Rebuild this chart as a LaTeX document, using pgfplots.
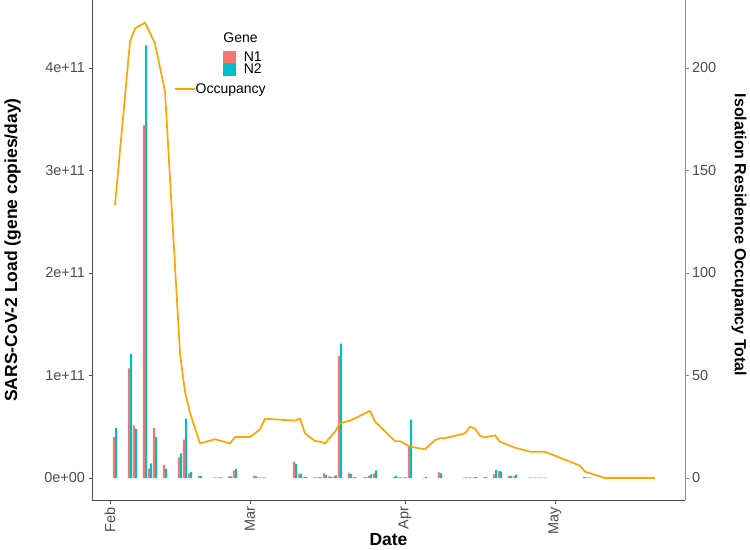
\documentclass[border=0pt]{standalone}
\usepackage{pgfplots}
\pgfplotsset{compat=1.18}
\usepackage{pgfplotstable}
\usepackage{fontspec}
\setmainfont{Liberation Sans}

\definecolor{nOne}{HTML}{F8766D}
\definecolor{nTwo}{HTML}{00BFC4}
\definecolor{occ}{HTML}{FFA500}
\definecolor{tickgray}{HTML}{4D4D4D}
\definecolor{axdark}{HTML}{4D4D4D}
\definecolor{axlight}{HTML}{8C8C8C}

\newcommand{\ticksize}{\fontsize{14.5bp}{17bp}\selectfont}
\newcommand{\legsize}{\fontsize{14bp}{16bp}\selectfont}
\newcommand{\titlesize}{\fontsize{17.5bp}{20bp}\selectfont\bfseries}

\pgfplotsset{
    gene legend/.style={legend image code/.code={%
        \fill[##1] (0bp,-6.25bp) rectangle (12.5bp,6.25bp);
        \path (0bp,0bp) -- (20.5bp,0bp);}},
    occ legend/.style={legend image code/.code={%
        \draw[##1] (0bp,0bp) -- (11bp,0bp);
        \path (0bp,0bp) -- (19.7bp,0bp);}},
}

% day 0 = 1 Feb; loads in gene copies/day
\pgfplotstableread{
day n1 n2
1 4.0e10 4.9e10
4 1.07e11 1.21e11
5 5.1e10 4.8e10
7 3.44e11 4.22e11
8 9.3e9 1.43e10
9 4.9e10 4.0e10
11 1.27e10 8.8e9
14 2.0e10 2.4e10
15 3.75e10 5.8e10
16 4.6e9 6.0e9
18 2.0e9 2.0e9
21 6e8 4e8
22 5e8 5e8
24 1.5e9 1.5e9
25 7.5e9 8.8e9
29 2.3e9 1.5e9
30 5e8 3e8
31 6e8 4e8
37 1.6e10 1.35e10
38 4.0e9 4.2e9
39 1.0e9 8e8
41 5e8 6e8
42 8e8 6e8
43 4.6e9 3.0e9
44 1.5e9 1.2e9
45 1.5e9 2.6e9
46 1.19e11 1.31e11
48 5.2e9 3.9e9
49 8e8 6e8
51 5e8 8e8
52 2.0e9 3.6e9
53 4.6e9 7.5e9
57 1.2e9 2.0e9
58 5e8 5e8
59 5e8 6e8
60 3.05e10 5.7e10
63 3e8 1.2e9
66 5.5e9 4.6e9
71 4e8 6e8
72 5e8 4e8
73 6e8 1.0e9
75 5e8 1.0e9
77 3.5e9 7.8e9
78 7.0e9 6.5e9
80 2.2e9 2.0e9
81 1.5e9 3.2e9
84 3e8 4e8
85 3e8 3e8
86 3e8 3e8
87 3e8 3e8
95 1.0e9 5e8
96 5e8 4e8
}\loadtable

\pgfplotstableread{
day occ
1 133.2
4 212.8
5 219.3
7 222.1
9 212
11 188.5
14 60.8
15 42.1
16 31.7
18 16.9
21 18.9
24 16.9
25 20
28 20
30 23.7
31 28.9
37 28
38 28.9
39 21.8
41 18
42 17.7
43 16.9
45 22.6
46 26.7
48 28
49 29.1
52 32.8
53 27.5
57 18
58 18
60 15.3
63 14
65 18.5
66 19.4
67 19.4
71 21.8
72 25
73 24
74 20.6
75 19.8
77 20.8
78 17.7
81 14.8
84 12.8
87 12.8
94 6
95 3.1
99 0
109 0
}\occtable

\begin{document}
\begin{tikzpicture}
\useasboundingbox (0,0) rectangle (750bp,550bp);
\begin{axis}[
    at={(92bp,50bp)}, anchor=south west,
    scale only axis, width=593bp, height=500bp,
    xmin=-3.6, xmax=115,
    ymin=-2.146e10, ymax=4.663e11,
    scaled y ticks=false, scaled x ticks=false,
    axis x line*=bottom, axis y line*=left,
    axis line style={draw=axdark, line width=0.6bp},
    xtick={0,28,59,89}, xticklabels={Feb,Mar,Apr,May},
    ytick={0,1e11,2e11,3e11,4e11},
    yticklabels={0e+00,1e+11,2e+11,3e+11,4e+11},
    tick align=outside, major tick length=3.5bp,
    tick style={draw=axdark, line width=0.6bp},
    xticklabel style={rotate=90, anchor=east, font=\ticksize, text=tickgray},
    yticklabel style={font=\ticksize, text=tickgray},
    xlabel={Date},
    xlabel style={at={(axis description cs:0.5,-0.08)}, anchor=center, font=\titlesize},
    ylabel={SARS-CoV-2 Load (gene copies/day)},
    ylabel style={at={(axis description cs:-0.134,0.5)}, anchor=center, font=\titlesize},
    legend style={at={(axis description cs:0.2214,0.8986)}, anchor=north west,
        draw=none, fill=none, inner sep=0pt, outer sep=0pt, row sep=0pt,
        font=\legsize, nodes={inner sep=0pt}, cells={anchor=west}},
]
\addplot[ybar, bar width=0.44, bar shift=-0.22, fill=nOne, draw=none, gene legend]
    table[x=day, y=n1] {\loadtable};
\addlegendentry{N1}
\addplot[ybar, bar width=0.44, bar shift=0.22, fill=nTwo, draw=none, gene legend]
    table[x=day, y=n2] {\loadtable};
\addlegendentry{N2}
\node[anchor=base west, inner sep=0pt, font=\legsize]
    at (axis description cs:0.2214,0.9146) {Gene};
\end{axis}

\begin{axis}[
    at={(92bp,50bp)}, anchor=south west,
    scale only axis, width=593bp, height=500bp,
    xmin=-3.6, xmax=115,
    ymin=-10.73, ymax=233.17,
    scaled y ticks=false,
    hide x axis, axis y line*=right,
    axis line style={draw=axlight, line width=0.6bp},
    ytick={0,50,100,150,200}, yticklabels={0,50,100,150,200},
    tick align=outside, major tick length=3.5bp,
    tick style={draw=axlight, line width=0.6bp},
    yticklabel style={font=\ticksize, text=tickgray},
    ylabel={Isolation Residence Occupancy Total},
    ylabel style={at={(axis description cs:1.091,0.53)}, anchor=center, rotate=180,
        font=\fontsize{16bp}{19bp}\selectfont\bfseries},
    legend style={at={(axis description cs:0.1388,0.8214)}, anchor=west,
        draw=none, fill=none, inner sep=0pt, outer sep=0pt,
        font=\legsize, nodes={inner sep=0pt}, cells={anchor=west}},
]
\addplot[color=occ, line width=1.7bp, no markers, occ legend]
    table[x=day, y=occ] {\occtable};
\addlegendentry{Occupancy}
\end{axis}
\end{tikzpicture}
\end{document}
